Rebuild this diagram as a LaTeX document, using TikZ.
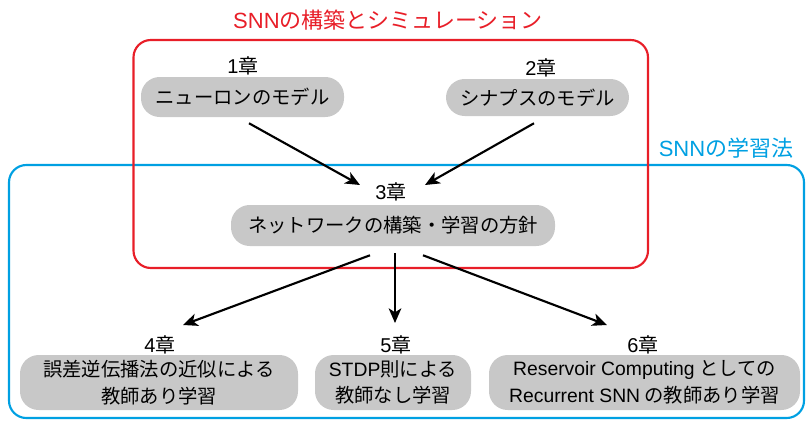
\documentclass[tikz,border=0pt]{standalone}
\usepackage{fontspec}
\setmainfont{Noto Sans CJK JP}
\newfontfamily\lat{Liberation Sans}
\usetikzlibrary{arrows.meta}
\definecolor{pillgray}{RGB}{200,200,200}
\definecolor{boxred}{RGB}{232,30,40}
\definecolor{boxblue}{RGB}{0,160,226}
\begin{document}
\begin{tikzpicture}[x=0.75pt,y=-0.75pt,
  pill/.style={fill=pillgray, rounded corners=14pt, inner sep=0pt, align=center,
    font=\fontsize{14.5}{20}\selectfont},
  chap/.style={font=\fontsize{15}{18}\selectfont, inner sep=0pt},
  arr/.style={line width=1.6pt, -{Stealth[length=11pt,width=9.5pt,inset=3pt]}},
  frame/.style={line width=1.6pt, rounded corners=13pt},
  ttl/.style={font=\fontsize{16.5}{20}\selectfont, inner sep=0pt}]
\useasboundingbox (0,0) rectangle (807,422);
% frames
\draw[frame, boxblue] (9,165) rectangle (804,418);
\draw[frame, boxred] (133.5,40) rectangle (648,268);
\node[ttl, text=boxred] (tred) at (388,20) {{\lat SNN}の構築とシミュレーション};
\node[ttl, text=boxblue] (tblue) at (726,148) {{\lat SNN}の学習法};
% chapter labels
\node[chap] (c1) at (243,66) {{\lat 1}章};
\node[chap] (c2) at (541,68) {{\lat 2}章};
\node[chap] (c3) at (391,192) {{\lat 3}章};
\node[chap] (c4) at (160,345) {{\lat 4}章};
\node[chap] (c5) at (396,345) {{\lat 5}章};
\node[chap] (c6) at (643,345) {{\lat 6}章};
% pills
\node[pill, minimum width=203*0.75pt, minimum height=40*0.75pt] (n1) at (242.5,97) {ニューロンのモデル};
\node[pill, minimum width=183*0.75pt, minimum height=37*0.75pt] (n2) at (537.5,97.5) {シナプスのモデル};
\node[pill, minimum width=324*0.75pt, minimum height=41*0.75pt] (n3) at (393,225.5) {ネットワークの構築・学習の方針};
\node[pill, minimum width=278*0.75pt, minimum height=55*0.75pt] (n4) at (159,382.5) {誤差逆伝播法の近似による\\教師あり学習};
\node[pill, minimum width=156*0.75pt, minimum height=55*0.75pt] (n5) at (393,382.5) {{\lat STDP}則による\\教師なし学習};
\node[pill, minimum width=311*0.75pt, minimum height=55*0.75pt] (n6) at (644.5,382.5) {{\lat Reservoir Computing} としての\\{\lat Recurrent SNN} の教師あり学習};
% arrows
\draw[arr] ([shift={(6.5,6)}]n1.south) -- ([shift={(-31,-7)}]c3.center);
\draw[arr] ([shift={(-3.5,7)}]n2.south) -- ([shift={(34,-7)}]c3.center);
\draw[arr] ([shift={(-23,9)}]n3.south) -- ([shift={(23,-20)}]c4.center);
\draw[arr] ([shift={(2,7)}]n3.south) -- ([shift={(-1,-22)}]c5.center);
\draw[arr] ([shift={(30,9)}]n3.south) -- ([shift={(-36,-20)}]c6.center);
\end{tikzpicture}
\end{document}
